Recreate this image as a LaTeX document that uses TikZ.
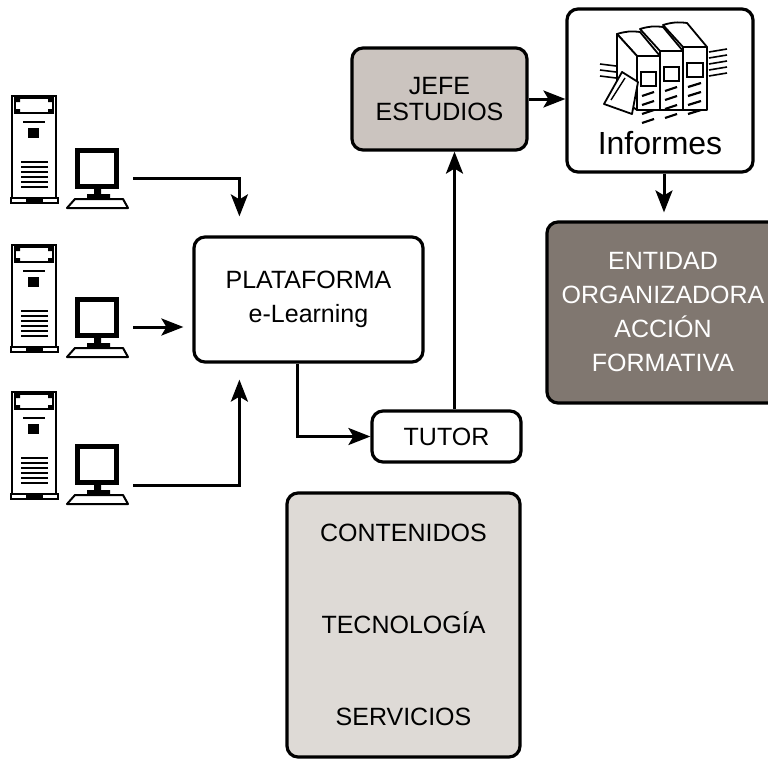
\documentclass[tikz,border=0pt]{standalone}
\usepackage{fontspec}
\setmainfont{Liberation Sans}
\usepackage{tikz}
\usetikzlibrary{arrows.meta,positioning}

\definecolor{grisjefe}{RGB}{203,196,191}
\definecolor{grisserv}{RGB}{222,218,214}
\definecolor{grisent}{RGB}{128,119,112}

\begin{document}
\begin{tikzpicture}[x=1pt,y=-1pt,>={Stealth[length=22pt,width=17pt,inset=5pt]},
    caja/.style={draw,line width=3.2pt,rounded corners=11pt,align=center,inner sep=0pt,
      font=\fontsize{25}{34}\selectfont},
    flujo/.style={->,line width=3pt},
    libro/.style={line width=1.8pt,line join=round,fill=white},
    % puesto de trabajo: torre + monitor + teclado
    pc/.pic={
      \draw[line width=2.4pt] (0,0) rectangle (44,102);
      \draw[line width=1.8pt] (3,2) rectangle (41,17);
      \fill (3,2) rectangle (8,6) (36,2) rectangle (41,6)
            (3,13) rectangle (8,17) (36,13) rectangle (41,17);
      \draw[line width=1.6pt] (11,26) -- (33,26);
      \fill (16,32) rectangle (27,42);
      \foreach \y in {66,71,...,91}
        \draw[line width=2pt] (9,\y) -- (36,\y);
      \draw[line width=1.8pt] (-1,102) rectangle (46,107);
      \fill (14,102) rectangle (31,108);
      \draw[line width=5pt] (65,54) rectangle (104,90);
      \fill (82,91) rectangle (89,99) (75,98) rectangle (98,102);
      \draw[line width=2pt,line join=round] (63,103) -- (111,103) -- (116,112) -- (55,112) -- cycle;
      \node[minimum width=72pt,minimum height=40pt,inner sep=0pt] (-mon) at (85,82) {};
    }]

  \useasboundingbox (0,0) rectangle (768,760);
  \clip (0,0) rectangle (768,760);

  % puestos
  \pic (pc1) at (12,96)  {pc};
  \pic (pc2) at (12,245) {pc};
  \pic (pc3) at (12,392) {pc};

  % cajas
  \node[caja,minimum width=229pt,minimum height=125pt] (plat) at (308.5,299.5) {PLATAFORMA\\e-Learning};
  \node[caja,minimum width=149pt,minimum height=51pt] (tutor) at (446.5,436.5) {TUTOR};
  \node[caja,fill=grisjefe,minimum width=175pt,minimum height=102pt,
        font=\fontsize{25}{26}\selectfont] (jefe) at (439.5,99) {JEFE\\ESTUDIOS};
  \node[caja,minimum width=186pt,minimum height=163pt] (inf) at (660,90.5) {};
  \node[font=\fontsize{32}{36}\selectfont] (inftxt) at (660,143) {Informes};
  \node[caja,fill=grisent,text=white,minimum width=232pt,minimum height=181pt] (ent) at (663,312.5)
        {ENTIDAD\\ORGANIZADORA\\ACCIÓN\\FORMATIVA};
  \node[caja,fill=grisserv,minimum width=233pt,minimum height=264pt] (serv) at (403.5,625)
        {CONTENIDOS\\[58pt]TECNOLOGÍA\\[58pt]SERVICIOS};

  % libros
  \foreach \x/\w/\t in {683/24/47, 660/23/51, 637/23/56}{
    \draw[libro] (\x,\t) -- ({\x-20},{\t-22}) to[bend left=12] ({\x+\w-20},{\t-24}) -- ({\x+\w},\t) -- cycle;
    \draw[libro] (\x,\t) rectangle ({\x+\w},110);
    \draw[line width=1.4pt] ({\x+4},{\t+16}) rectangle ({\x+\w-4},{\t+30});
    \foreach \k in {0,1,2,3}
      \draw[line width=2.2pt] ({\x+5},{\t+40+9*\k}) -- ({\x+\w-6},{\t+36+9*\k});
  }
  \draw[libro] (617,34) -- (617,96) -- (637,110) -- (637,56) -- cycle;
  \draw[libro] (604,104) -- (622,72) -- (638,82) -- (632,114) -- cycle;
  \draw[line width=1.4pt] (611,100) -- (625,78);
  \foreach \y in {52,58,...,76}
    \draw[line width=1.6pt] (709,\y) -- (727,{\y-3});
  \foreach \y in {64,70,76}
    \draw[line width=1.6pt] (600,\y) -- (616,{\y+2});

  % conexiones
  \draw[flujo,shorten >=19pt] (pc1-mon.east) -| ([xshift=47pt]plat.north west);
  \draw[flujo,shorten >=9pt] (pc2-mon.east) -- (pc2-mon.east -| plat.west);
  \draw[flujo,shorten >=16pt] ([yshift=-11pt]pc3-mon.east) -| ([xshift=47pt]plat.south west);
  \draw[flujo] ([xshift=-11.5pt]plat.south) |- (tutor.west);
  \draw[flujo] ([xshift=8pt]tutor.north) -- ([xshift=8pt]tutor.north |- jefe.south);
  \draw[flujo] (jefe.east) -- (jefe.east -| inf.west);
  \draw[flujo,shorten >=8pt] ([xshift=4pt]inf.south) -- ([xshift=4pt]inf.south |- ent.north);
\end{tikzpicture}
\end{document}
